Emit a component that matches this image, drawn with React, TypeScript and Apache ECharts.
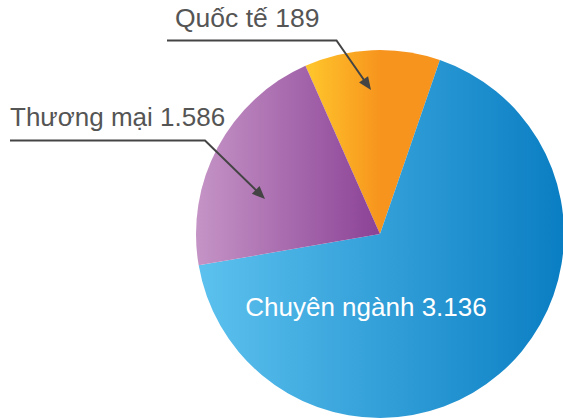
import React, { useEffect, useRef } from "react";
import * as echarts from "echarts";

// Category names and the counts written in the labels
const categories = ["Quốc tế", "Chuyên ngành", "Thương mại"];
const counts = [189, 3136, 1586];
// Angular share of each slice as drawn in the picture (degrees)
const sliceDegrees = [42.9, 241.2, 75.9];

const gradients: string[][] = [
  ["#FFC72C", "#F7941D", "#F7941D"],
  ["#5CC1EE", "#0A7EC3"],
  ["#C594C6", "#8B4296"],
];

function fmt(n: number): string {
  return String(n).replace(/\B(?=(\d{3})+(?!\d))/g, ".");
}

function arrow(x1: number, y1: number, x2: number, y2: number, elbowX: number, elbowY: number) {
  const dx = x2 - elbowX;
  const dy = y2 - elbowY;
  const len = Math.sqrt(dx * dx + dy * dy);
  const ux = dx / len;
  const uy = dy / len;
  const hl = 13;
  const hw = 5.5;
  const bx = x2 - ux * hl;
  const by = y2 - uy * hl;
  const px = -uy * hw;
  const py = ux * hw;
  return [
    {
      type: "polyline",
      z: 100,
      shape: { points: [[x1, y1], [elbowX, elbowY], [bx + ux * 2, by + uy * 2]] },
      style: { stroke: "#444", lineWidth: 2, fill: null },
      silent: true,
    },
    {
      type: "polygon",
      z: 100,
      shape: { points: [[x2, y2], [bx + px, by + py], [bx - px, by - py]] },
      style: { fill: "#444" },
      silent: true,
    },
  ];
}

export default function App() {
  const ref = useRef<HTMLDivElement>(null);
  useEffect(() => {
    if (!ref.current) return;
    const chart = echarts.init(ref.current, undefined, { renderer: "svg" });
    const font = "'Liberation Sans', Arial, Helvetica, sans-serif";
    const labelText = (i: number) => `${categories[i]} ${fmt(counts[i])}`;
    chart.setOption({
      animation: false,
      backgroundColor: "#ffffff",
      series: [
        {
          type: "pie",
          z: 1,
          center: [380, 234],
          radius: [0, 184],
          startAngle: 113.9,
          clockwise: true,
          label: { show: false },
          labelLine: { show: false },
          emphasis: { disabled: true },
          itemStyle: { borderWidth: 0 },
          data: categories.map((name, i) => {
            const g = gradients[i];
            const stops =
              g.length === 3
                ? [
                    { offset: 0, color: g[0] },
                    { offset: 0.56, color: g[1] },
                    { offset: 1, color: g[2] },
                  ]
                : [
                    { offset: 0, color: g[0] },
                    { offset: 1, color: g[1] },
                  ];
            return {
              name,
              value: sliceDegrees[i],
              itemStyle: { color: new echarts.graphic.LinearGradient(0, 0, 1, 0, stops) },
            };
          }),
        },
      ],
      graphic: [
        {
          type: "text",
          z: 100,
          left: 175,
          top: 4,
          style: { text: labelText(0), fontSize: 26.5, fontFamily: font, fill: "#555" },
          silent: true,
        },
        {
          type: "text",
          z: 100,
          left: 10,
          top: 104,
          style: { text: labelText(2), fontSize: 26, fontFamily: font, fill: "#555" },
          silent: true,
        },
        {
          type: "text",
          z: 100,
          x: 366,
          y: 307,
          style: {
            text: labelText(1),
            fontSize: 26,
            fontFamily: font,
            fill: "#ffffff",
            align: "center",
            verticalAlign: "middle",
          },
          silent: true,
        },
        ...arrow(167, 40.5, 371, 90, 336.5, 40.5),
        ...arrow(10, 140.5, 265, 199, 205, 140.5),
      ],
    });
    return () => chart.dispose();
  }, []);
  return (
    <div
      ref={ref}
      style={{ position: "fixed", left: 0, top: 0, width: 563, height: 418, background: "#fff" }}
    />
  );
}
